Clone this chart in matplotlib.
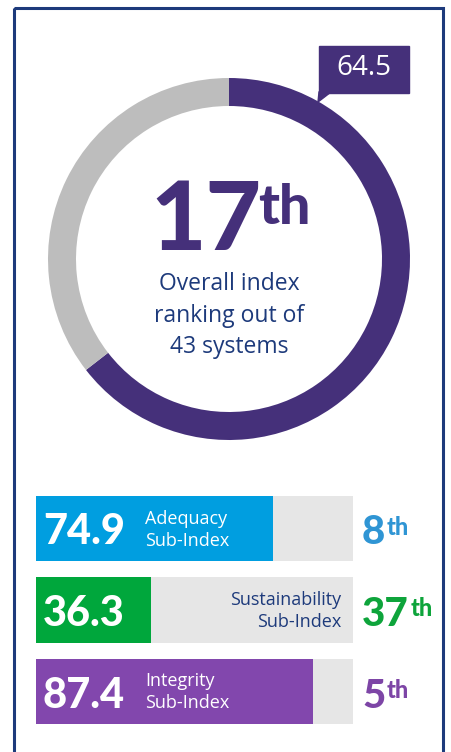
import matplotlib.pyplot as plt
from matplotlib.patches import Rectangle, Polygon

# data
overall_score = 64.5
overall_rank = 17
total_systems = 43
sub_names = ['Adequacy', 'Sustainability', 'Integrity']
sub_scores = [74.9, 36.3, 87.4]
sub_ranks = [8, 37, 5]
bar_colors = ['#009ee0', '#00a73c', '#8247ad']
rank_colors = ['#2f95d4', '#0ea43b', '#7d45a6']

navy = '#1d3a7b'
purple = '#45307a'
W, H = 451, 752

fig = plt.figure(figsize=(W / 100, H / 100), dpi=100)

# donut
cx, cy, r = 229, 259, 181
axd = fig.add_axes([(cx - r) / W, (H - cy - r) / H, 2 * r / W, 2 * r / H])
axd.pie([overall_score, 100 - overall_score], colors=[purple, '#bdbdbd'],
        startangle=90, counterclock=False, radius=1,
        wedgeprops=dict(width=28 / r, linewidth=0))
axd.set_xlim(-1, 1)
axd.set_ylim(-1, 1)
axd.set_aspect('equal')
axd.axis('off')

# bars
x0, x1, y0, y1 = 36, 353, 496, 724
axb = fig.add_axes([x0 / W, (H - y1) / H, (x1 - x0) / W, (y1 - y0) / H])
ypos = range(len(sub_scores))
axb.barh(ypos, [100] * len(sub_scores), height=0.8, color='#e6e6e6')
axb.barh(ypos, sub_scores, height=0.8, color=bar_colors)
axb.set_xlim(0, 100)
axb.set_ylim(2.4, -0.4)
axb.axis('off')

# overlay for text / frame
ax = fig.add_axes([0, 0, 1, 1], zorder=10)
ax.set_xlim(0, W)
ax.set_ylim(H, 0)
ax.axis('off')
ax.patch.set_alpha(0)

ax.add_patch(Rectangle((14, 8), 429, 760, fill=False, edgecolor=navy, lw=2.2))

# score label box
ax.add_patch(Rectangle((319, 46), 90, 47, color=purple))
ax.add_patch(Polygon([(319, 92), (331, 92), (318, 102)], closed=True, color=purple))
ax.text(364, 68, f'{overall_score}', color='white', fontsize=20, family='Open Sans',
        ha='center', va='center')

big = ax.text(150, 250, f'{overall_rank}', color=purple, fontsize=69, family='Lato',
              fontweight='black', ha='left', va='baseline')
ax.annotate('th', xy=(1, 0.95), xycoords=big, xytext=(-2, 0), textcoords='offset points',
            color=purple, fontsize=40, family='Lato', fontweight='black', ha='left', va='top')

for i, line in enumerate(['Overall index', 'ranking out of', f'{total_systems} systems']):
    ax.text(229, 284 + i * 31.5, line, color=navy, fontsize=16.5, family='Open Sans',
            ha='center', va='center')

for i, (name, score, rank) in enumerate(zip(sub_names, sub_scores, sub_ranks)):
    yc = 528.5 + i * 81.5
    ax.text(43, yc + 16, f'{score}', color='white', fontsize=30, family='Lato',
            fontweight='black', ha='left', va='baseline')
    if name == 'Sustainability':
        ax.text(341, yc - 10, name, color=navy, fontsize=13, family='Open Sans',
                ha='right', va='center')
        ax.text(341, yc + 12, 'Sub-Index', color=navy, fontsize=13, family='Open Sans',
                ha='right', va='center')
    else:
        ax.text(145, yc - 10, name, color='white', fontsize=13, family='Open Sans',
                ha='left', va='center')
        ax.text(145, yc + 12, 'Sub-Index', color='white', fontsize=13, family='Open Sans',
                ha='left', va='center')
    t = ax.text(362, yc + 16, f'{rank}', color=rank_colors[i], fontsize=29, family='Lato',
                fontweight='black', ha='left', va='baseline')
    ax.annotate('th', xy=(1, 0.97), xycoords=t, xytext=(1, 0), textcoords='offset points',
                color=rank_colors[i], fontsize=17, family='Lato', fontweight='black',
                ha='left', va='top')

fig.savefig('out.png', dpi=100)
